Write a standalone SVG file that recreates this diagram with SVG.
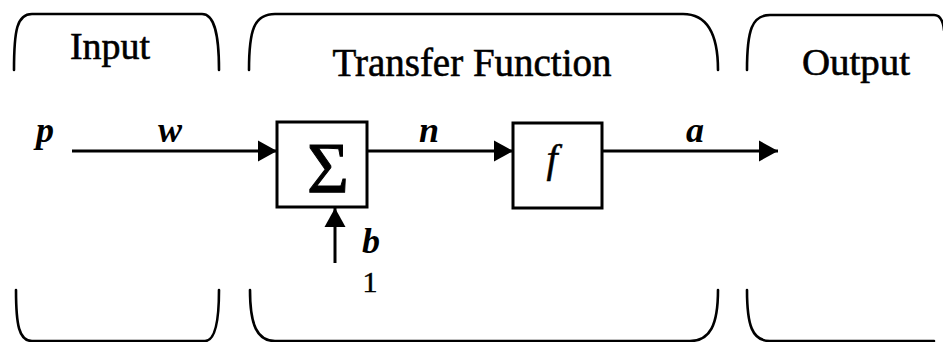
<svg xmlns="http://www.w3.org/2000/svg" width="943" height="342" viewBox="0 0 943 342">
<style>
.br{fill:none;stroke:#000;stroke-width:2.6;stroke-linecap:round}
.box{fill:#fff;stroke:#000;stroke-width:3}
.con{fill:none;stroke:#000;stroke-width:3}
.t{font-family:"Liberation Serif","Times New Roman",serif;fill:#000}
.title{font-size:37px;text-anchor:middle;stroke:#000;stroke-width:0.6}
.var{font-size:36px;font-style:italic;font-weight:bold;text-anchor:middle}
</style>
<defs>
<marker id="ah" markerUnits="userSpaceOnUse" markerWidth="20" markerHeight="22" refX="19" refY="10.5" orient="auto" viewBox="0 0 20 21">
<path d="M0,0 L19,10.5 L0,21 z" fill="#000"/>
</marker>
</defs>
<rect width="943" height="342" fill="#fff"/>

<g id="input-stage">
<path class="br" d="M14,70 C14,30 17,14 32,14 L202,14 C213,14 219,30 219,70"/>
<path class="br" d="M16,290 C16,325 19,341 32,341 L205,341 C214,341 219,325 219,290"/>
<text class="t title" x="110" y="59" textLength="80" lengthAdjust="spacingAndGlyphs">Input</text>
</g>

<g id="transfer-stage">
<path class="br" d="M249,70 C249,30 254,14 275,14 L683,14 C708,14 718,35 718,70"/>
<path class="br" d="M250,290 C250,325 257,341 275,341 L690,341 C710,341 718,325 718,290"/>
<text class="t title" x="472" y="76" textLength="279" lengthAdjust="spacingAndGlyphs" style="font-size:40px">Transfer Function</text>
</g>

<g id="output-stage">
<path class="br" d="M747,70 C747,30 752,15 770,15 L934,15 C939,15 943,20 944,30"/>
<path class="br" d="M747,290 C747,325 752,341 770,341 L934,341"/>
<text class="t title" x="856" y="75" textLength="108" lengthAdjust="spacingAndGlyphs">Output</text>
</g>

<g id="sum-node">
<rect class="box" x="277" y="122" width="90" height="85"/>
<text class="t" x="328" y="192" font-size="72" text-anchor="middle" stroke="#000" stroke-width="1">Σ</text>
</g>

<g id="transfer-node">
<rect class="box" x="513" y="123" width="89" height="85"/>
<text class="t" x="552" y="172" font-size="40" font-style="italic" text-anchor="middle" stroke="#000" stroke-width="0.5">f</text>
</g>

<g id="connectors">
<path class="con" d="M72,151 L277,151" marker-end="url(#ah)"/>
<path class="con" d="M367,151 L513,151" marker-end="url(#ah)"/>
<path class="con" d="M602,151 L778,151" marker-end="url(#ah)"/>
<path class="con" d="M335,263 L335,208" marker-end="url(#ah)"/>
</g>

<g id="labels">
<text class="t var" x="45" y="142">p</text>
<text class="t var" x="170" y="142">w</text>
<text class="t var" x="429" y="142">n</text>
<text class="t var" x="695" y="142">a</text>
<text class="t var" x="371" y="253">b</text>
<text class="t" x="370" y="292" font-size="30" text-anchor="middle" stroke="#000" stroke-width="0.5">1</text>
</g>
</svg>
